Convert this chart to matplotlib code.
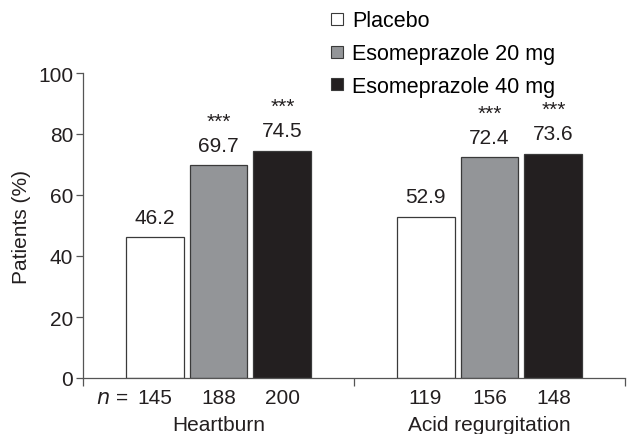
import matplotlib
matplotlib.use("Agg")
import matplotlib.pyplot as plt
from matplotlib.lines import Line2D
import numpy as np

plt.rcParams['font.family'] = ['Liberation Sans', 'DejaVu Sans']

categories = ["Heartburn", "Acid regurgitation"]
series = ["Placebo", "Esomeprazole 20 mg", "Esomeprazole 40 mg"]
values = {
    "Placebo": [46.2, 52.9],
    "Esomeprazole 20 mg": [69.7, 72.4],
    "Esomeprazole 40 mg": [74.5, 73.6],
}
n_values = {
    "Placebo": [145, 119],
    "Esomeprazole 20 mg": [188, 156],
    "Esomeprazole 40 mg": [200, 148],
}
significant = {
    "Placebo": [False, False],
    "Esomeprazole 20 mg": [True, True],
    "Esomeprazole 40 mg": [True, True],
}
colors = ["#ffffff", "#939598", "#231f20"]
edge = "#3a3a3a"

fig = plt.figure(figsize=(6.3, 4.35), dpi=100)
ax = fig.add_axes([83/630, 1-379/435, (625-83)/630, (379-74)/435])

x = np.arange(len(categories))
step = 0.236
width = 0.214
fs = 15

for i, s in enumerate(series):
    xs = x + (i - 1) * step
    ax.bar(xs, values[s], width=width, color=colors[i], edgecolor=edge,
           linewidth=0.9, zorder=2)
    for xi, v, nv, sig in zip(xs, values[s], n_values[s], significant[s]):
        ax.annotate(f"{v:.1f}", (xi, v), xytext=(0, 7.5), textcoords="offset points",
                    ha="center", va="bottom", fontsize=fs, color="#231f20")
        if sig:
            ax.annotate("***", (xi, v), xytext=(0, 25), textcoords="offset points",
                        ha="center", va="bottom", fontsize=15, color="#231f20")
        ax.annotate(str(nv), (xi, 0), xytext=(0, -7), textcoords="offset points",
                    ha="center", va="top", fontsize=fs, color="#231f20",
                    annotation_clip=False)

ax.annotate("$n$ =", (x[0] - 1.5 * step - 0.04, 0), xytext=(0, -7),
            textcoords="offset points", ha="center", va="top", fontsize=fs,
            color="#231f20", annotation_clip=False)

ax.set_xlim(-0.5, len(categories) - 0.5)
ax.set_ylim(0, 100)
ax.set_yticks(np.arange(0, 101, 20))
ax.tick_params(axis="y", labelsize=fs, length=5, width=0.9, color="#555555",
               labelcolor="#231f20", pad=2)
ax.set_xticks(np.arange(len(categories) + 1) - 0.5)
ax.set_xticklabels([])
ax.tick_params(axis="x", which="major", length=6, width=0.9, color="#555555")
ax.set_xticks(x, minor=True)
ax.set_xticklabels(categories, minor=True)
ax.tick_params(axis="x", which="minor", length=0, labelsize=fs, pad=26.5,
               labelcolor="#231f20")

for sp in ["top", "right"]:
    ax.spines[sp].set_visible(False)
for sp in ["left", "bottom"]:
    ax.spines[sp].set_color("#555555")
    ax.spines[sp].set_linewidth(0.9)

ax.set_ylabel("Patients (%)", fontsize=fs, color="#231f20", labelpad=5)

handles = [Line2D([], [], marker="s", linestyle="none", markersize=9,
                  markerfacecolor=c, markeredgecolor=edge, markeredgewidth=0.8)
           for c in colors]
fig.legend(handles, series, loc="upper left", bbox_to_anchor=(324/630, 1 - 7/435),
           frameon=False, fontsize=15.5, handlelength=0.8, handletextpad=0.3,
           labelspacing=0.55, borderpad=0.2, borderaxespad=0)

fig.savefig("out.png", dpi=100)
